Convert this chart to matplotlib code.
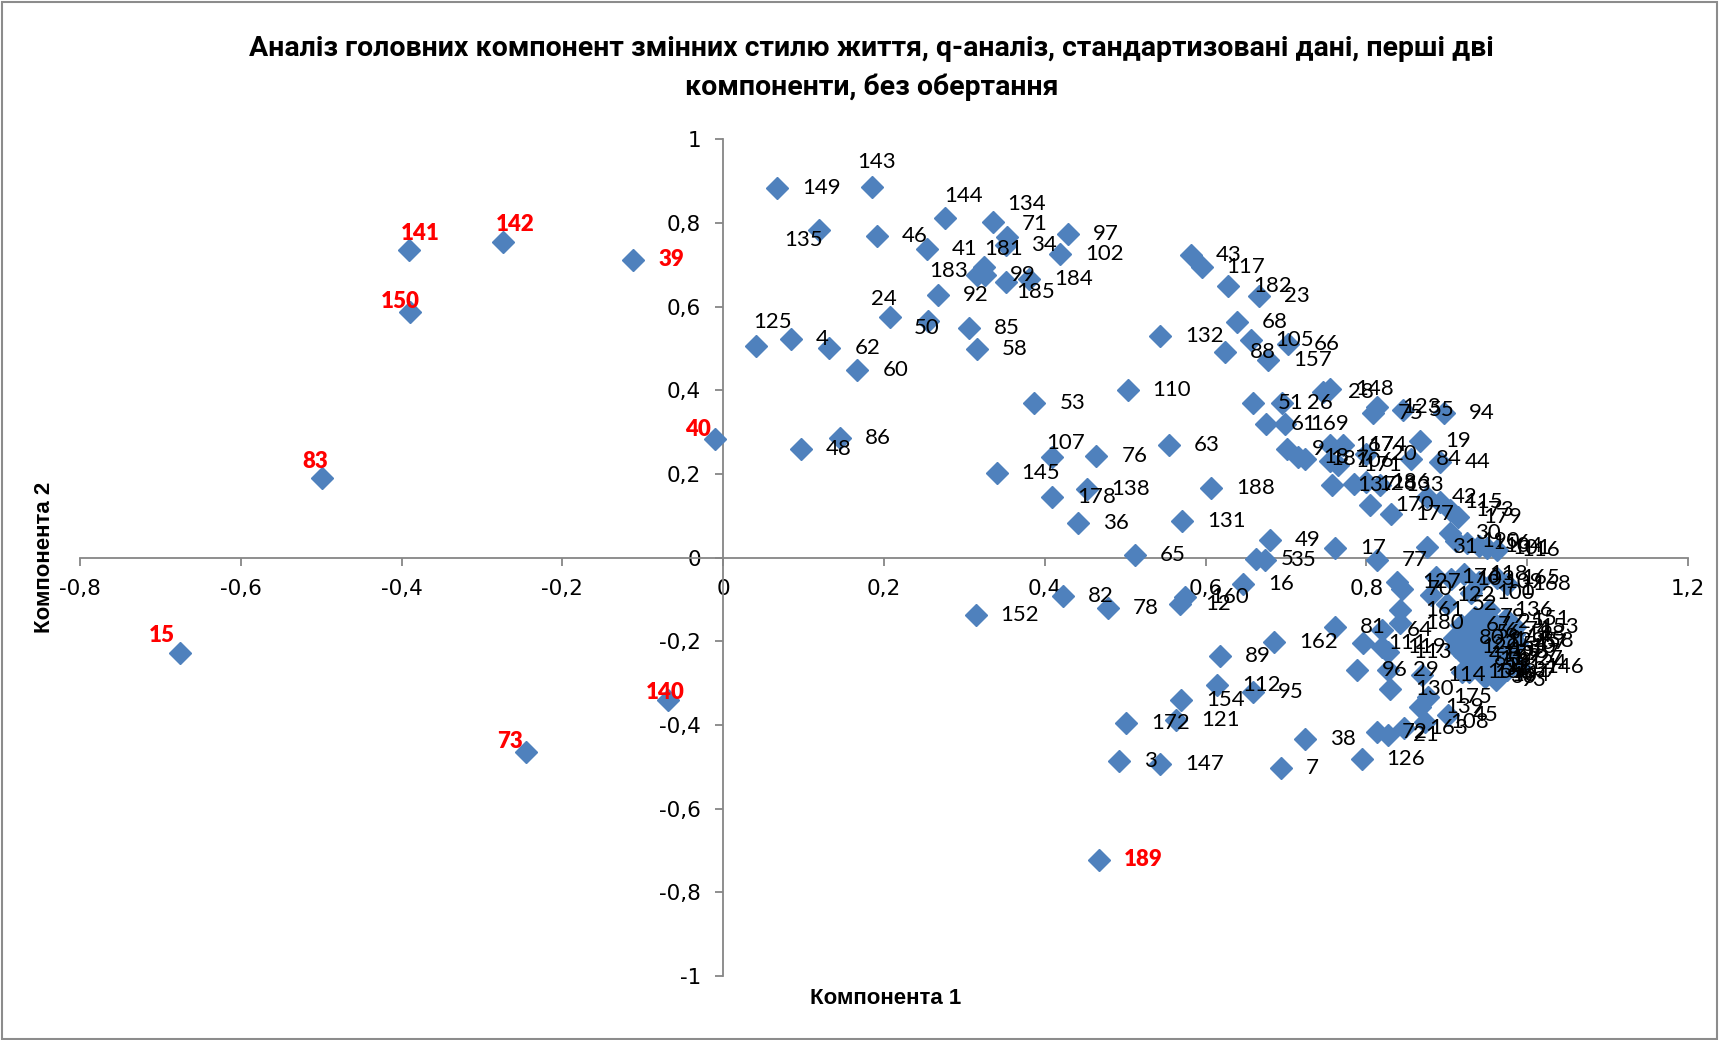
import matplotlib
matplotlib.use("Agg")
import matplotlib.pyplot as plt
from matplotlib.patches import Rectangle

# номери респондентів та їх координати на перших двох компонентах
ids = list(range(1, 191))
comp1 = [
    0.952, 0.963, 0.492, 0.084, 0.663, 0.941, 0.694, 0.958, 0.701, 0.972,
    0.934, 0.568, 0.946, 0.968, -0.676, 0.647, 0.761, 0.715, 0.867, 0.800,
    0.827, 0.925, 0.667, 0.208, 0.957, 0.695, 0.981, 0.746, 0.827, 0.904,
    0.875, 0.939, 0.948, 0.352, 0.674, 0.441, 0.975, 0.724, -0.112, -0.010,
    0.253, 0.875, 0.582, 0.891, 0.901, 0.191, 0.921, 0.097, 0.680, 0.255,
    0.659, 0.900, 0.387, 0.962, 0.846, 0.930, 0.987, 0.316, 0.944, 0.167,
    0.675, 0.132, 0.554, 0.819, 0.512, 0.703, 0.917, 0.639, 0.955, 0.844,
    0.353, 0.813, -0.245, 0.966, 0.808, 0.464, 0.813, 0.478, 0.935, 0.909,
    0.761, 0.423, -0.499, 0.855, 0.306, 0.145, 0.978, 0.624, 0.618, 0.950,
    0.928, 0.267, 0.961, 0.896, 0.659, 0.788, 0.429, 0.984, 0.326, 0.930,
    0.950, 0.419, 0.905, 0.940, 0.656, 0.755, 0.409, 0.873, 0.940, 0.503,
    0.796, 0.614, 0.827, 0.869, 0.891, 0.962, 0.595, 0.921, 0.819, 0.912,
    0.563, 0.880, 0.813, 0.970, 0.041, 0.794, 0.838, 0.784, 0.943, 0.829,
    0.571, 0.543, 0.817, 0.336, 0.119, 0.953, 0.757, 0.452, 0.867, -0.069,
    -0.391, -0.274, 0.185, 0.276, 0.340, 0.991, 0.543, 0.755, 0.067, -0.390,
    0.974, 0.314, 0.985, 0.570, 0.919, 0.925, 0.678, 0.979, 0.938, 0.574,
    0.842, 0.685, 0.847, 0.949, 0.962, 0.928, 0.755, 0.975, 0.699, 0.805,
    0.765, 0.501, 0.904, 0.771, 0.877, 0.887, 0.830, 0.409, 0.914, 0.842,
    0.324, 0.628, 0.316, 0.380, 0.352, 0.800, 0.724, 0.607, 0.467, 0.912,
]
comp2 = [
    -0.197, -0.231, -0.486, 0.522, -0.002, -0.176, -0.502, -0.262, 0.261, -0.214,
    -0.243, -0.110, -0.221, -0.188, -0.229, -0.062, 0.022, 0.241, 0.278, 0.249,
    -0.424, -0.205, 0.625, 0.576, -0.154, 0.370, -0.241, 0.396, -0.269, 0.058,
    0.026, -0.265, -0.286, 0.747, -0.006, 0.083, -0.268, -0.434, 0.712, 0.284,
    0.739, 0.145, 0.723, 0.229, -0.376, 0.769, -0.232, 0.261, 0.042, 0.566,
    0.370, -0.110, 0.370, -0.209, 0.353, -0.181, -0.205, 0.498, -0.248, 0.448,
    0.319, 0.502, 0.269, -0.173, 0.006, 0.512, -0.161, 0.564, -0.238, -0.074,
    0.767, -0.416, -0.465, -0.172, 0.345, 0.243, -0.006, -0.120, -0.142, -0.192,
    -0.165, -0.092, 0.190, 0.235, 0.549, 0.287, -0.226, 0.492, -0.235, -0.273,
    -0.258, 0.627, -0.292, 0.346, -0.321, -0.269, 0.773, -0.183, 0.675, -0.085,
    0.022, 0.726, -0.052, 0.028, 0.520, 0.230, 0.241, -0.392, -0.058, 0.400,
    -0.205, -0.305, -0.225, -0.281, 0.133, 0.018, 0.694, -0.040, -0.213, -0.214,
    -0.387, -0.090, 0.361, -0.251, 0.506, -0.480, -0.058, 0.176, -0.198, -0.313,
    0.087, 0.530, 0.173, 0.803, 0.783, -0.125, 0.173, 0.165, -0.357, -0.340,
    0.735, 0.754, 0.886, 0.811, 0.203, -0.262, -0.492, 0.404, 0.883, 0.588,
    -0.146, -0.137, -0.165, -0.341, -0.273, 0.036, 0.472, -0.198, -0.229, -0.094,
    -0.125, -0.201, -0.408, -0.281, -0.048, -0.273, 0.269, -0.062, 0.319, 0.126,
    0.221, -0.396, 0.114, 0.269, -0.333, -0.045, 0.104, 0.145, 0.098, -0.157,
    0.695, 0.650, 0.675, 0.667, 0.659, 0.181, 0.237, 0.167, -0.722, 0.040,
]
# викиди, підписані червоним
red_ids = [15, 39, 40, 73, 83, 140, 141, 142, 150, 189]

x_ticks = [-0.8, -0.6, -0.4, -0.2, 0, 0.2, 0.4, 0.6, 0.8, 1, 1.2]
y_ticks = [-1, -0.8, -0.6, -0.4, -0.2, 0, 0.2, 0.4, 0.6, 0.8, 1]

# зсуви підписів (центр підпису відносно маркера, пт); решта - праворуч
label_offsets = {141: (8, 12), 142: (9, 13), 150: (-7, 7), 83: (-5, 12),
                 40: (-12, 7), 15: (-13, 13), 73: (-12, 8), 140: (-2, 5),
                 143: (3, 18), 144: (13, 16), 134: (24, 13), 135: (-11, -7),
                 24: (-5, 13), 50: (-1, -5), 107: (10, 10), 125: (12, 17),
                 181: (14, 13), 71: (20, 9), 183: (-21, 3), 185: (21, -7)}

def fmt(v):
    s = ('%.1f' % v).rstrip('0').rstrip('.')
    if s == '-0':
        s = '0'
    return s.replace('.', ',')

num_font = 'Lato'
fig = plt.figure(figsize=(17.19, 10.40), dpi=100)
ax = fig.add_axes([0.0465, 0.0615, 0.9355, 0.8045])

ax.plot(comp1, comp2, linestyle='none', marker='D', markersize=11,
        color='#4F81BD', zorder=3)

for i, x, y in zip(ids, comp1, comp2):
    red = i in red_ids
    kw = dict(fontsize=16, family=num_font, zorder=4,
              color='red' if red else 'black',
              fontweight='heavy' if red else 'normal')
    if i in label_offsets:
        ax.annotate(str(i), (x, y), xytext=label_offsets[i], textcoords='offset points',
                    ha='center', va='center', **kw)
    else:
        ax.annotate(str(i), (x, y), xytext=(18, 0), textcoords='offset points',
                    ha='left', va='center', **kw)

ax.set_xlim(-0.8, 1.2)
ax.set_ylim(-1, 1)
ax.set_xticks(x_ticks)
ax.set_xticklabels([fmt(v) for v in x_ticks], family=num_font)
ax.set_yticks(y_ticks)
ax.set_yticklabels([fmt(v) for v in y_ticks], family=num_font)

ax.spines['left'].set_position(('data', 0))
ax.spines['bottom'].set_position(('data', 0))
ax.spines['top'].set_visible(False)
ax.spines['right'].set_visible(False)
for s in ('left', 'bottom'):
    ax.spines[s].set_color('#868686')
    ax.spines[s].set_linewidth(1.3)
ax.tick_params(direction='out', length=6, width=1.3, color='#868686',
               labelsize=15.5)
ax.tick_params(axis='x', pad=9)
ax.tick_params(axis='y', pad=10)
ax.patch.set_visible(False)

fig.text(0.507, 0.953, 'Аналіз головних компонент змінних стилю життя, q-аналіз, '
         'стандартизовані дані, перші дві', ha='center', va='center',
         fontsize=20.5, fontweight='bold', family='Roboto')
fig.text(0.507, 0.916, 'компоненти, без обертання', ha='center', va='center',
         fontsize=20.5, fontweight='bold', family='Roboto')
fig.text(0.515, 0.040, 'Компонента 1', ha='center', va='center',
         fontsize=16, fontweight='bold', family='Liberation Sans')
fig.text(0.0256, 0.464, 'Компонента 2', ha='center', va='center', rotation=90,
         fontsize=16, fontweight='bold', family='Liberation Sans')

fig.patches.append(Rectangle((0.001, 0.001), 0.998, 0.997, transform=fig.transFigure,
                             fill=False, edgecolor='#8c8c8c', linewidth=1.5))

fig.savefig('out.png', dpi=100)
